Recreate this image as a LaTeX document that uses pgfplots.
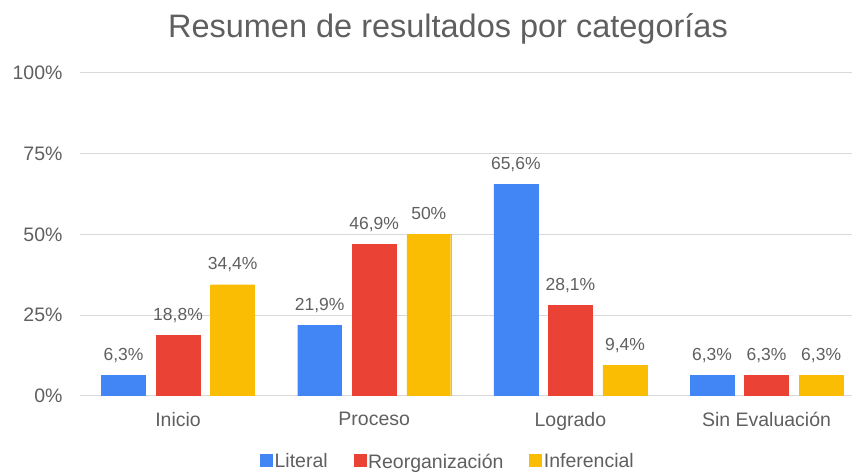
\documentclass[border=0pt]{standalone}
\usepackage{pgfplots}
\pgfplotsset{compat=1.18}
\usepackage{fontspec}
\setmainfont{Liberation Sans}
\definecolor{cBlue}{HTML}{4285F4}
\definecolor{cRed}{HTML}{EA4335}
\definecolor{cYel}{HTML}{FBBC04}
\definecolor{txt}{HTML}{5F5F5F}
\definecolor{gridc}{HTML}{D9D9D9}
\begin{document}
\begin{tikzpicture}
\begin{axis}[
  scale only axis, width=772pt, height=323pt,
  xmin=-0.5, xmax=3.433, ymin=0, ymax=100,
  axis line style={draw=none},
  major tick length=0pt,
  ymajorgrids, grid style={gridc, line width=1pt},
  ytick={0,25,50,75,100},
  yticklabel={\pgfmathprintnumber{\tick}\%},
  /pgf/number format/assume math mode=true,
  yticklabel style={font=\fontsize{19.5}{20}\selectfont, text=txt, xshift=-14pt},
  xtick={0,1,2,3},
  xticklabels={Inicio,Proceso,Logrado,Sin Evaluación},
  xticklabel style={font=\fontsize{19.5}{20}\selectfont, text=txt, yshift=-13pt},
  title={Resumen de resultados por categorías},
  title style={font=\fontsize{32.5}{33}\selectfont, text=txt, at={(axis description cs:0.477,1)}, anchor=base, yshift=29pt},
  bar width=0.224,
  nodes near coords={\pgfmathprintnumber[fixed,precision=1,use comma]{\pgfplotspointmeta}\%},
  every node near coord/.append style={font=\fontsize{17.5}{18}\selectfont, text=txt, anchor=base, yshift=15pt},
  legend style={draw=none, at={(axis description cs:0.477,-0.204)}, anchor=center, legend columns=3,
    font=\fontsize{19.5}{20}\selectfont, text=txt,
    /tikz/every even column/.append style={column sep=24pt}},
  legend image code/.code={\fill[#1] (0pt,-5pt) rectangle (12pt,7pt);},
]
\addplot[ybar, bar shift=-0.278, fill=cBlue, draw=cBlue, every node near coord/.append style={xshift=-54.6pt}] coordinates {(0,6.3) (1,21.9) (2,65.6) (3,6.3)};
\addplot[ybar, bar shift=0, fill=cRed, draw=cRed] coordinates {(0,18.8) (1,46.9) (2,28.1) (3,6.3)};
\addplot[ybar, bar shift=0.278, fill=cYel, draw=cYel, every node near coord/.append style={xshift=54.6pt}] coordinates {(0,34.4) (1,50) (2,9.4) (3,6.3)};
\legend{Literal,Reorganización,Inferencial}
\end{axis}
\path[use as bounding box] (current axis.south west) ++(-80pt,-75pt) rectangle ++(852pt,471pt);
\end{tikzpicture}
\end{document}
